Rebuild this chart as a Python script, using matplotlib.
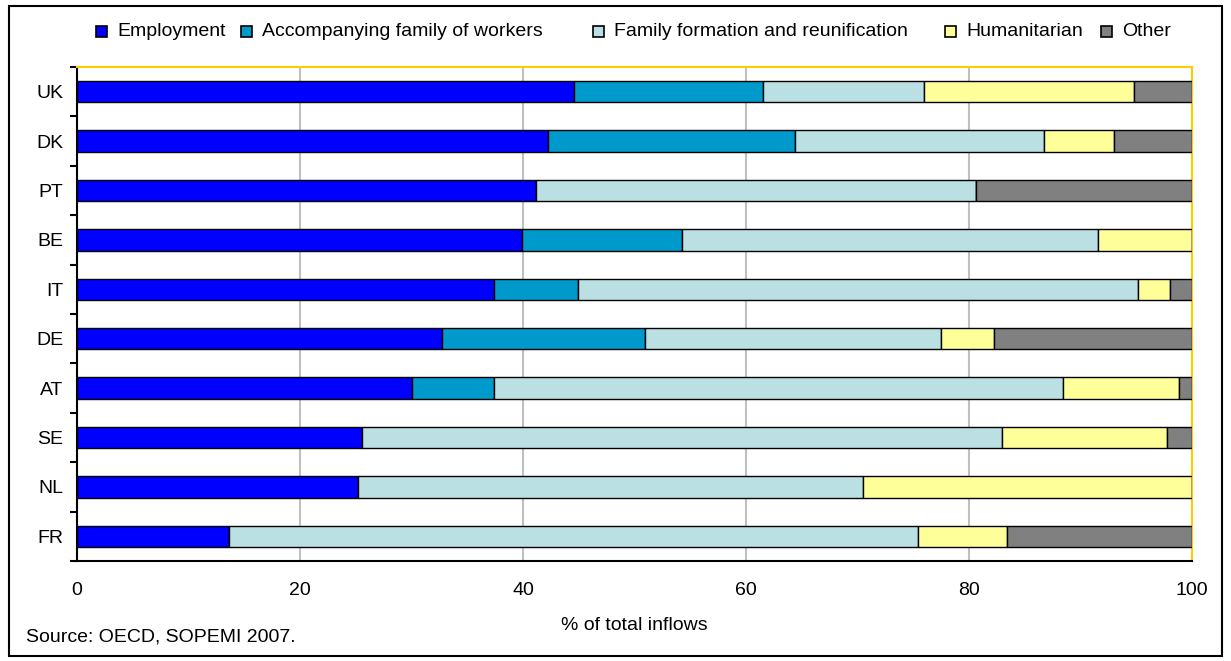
import matplotlib.pyplot as plt
from matplotlib.patches import Rectangle
import numpy as np

plt.rcParams['font.family'] = ['Liberation Sans', 'DejaVu Sans']
plt.rcParams['font.size'] = 14

# countries, top to bottom
countries = ['UK', 'DK', 'PT', 'BE', 'IT', 'DE', 'AT', 'SE', 'NL', 'FR']

# % of total inflows by category
employment = [44.6, 42.2, 41.2, 39.9, 37.4, 32.7, 30.0, 25.6, 25.2, 13.6]
accompanying = [16.9, 22.2, 0.0, 14.4, 7.5, 18.2, 7.4, 0.0, 0.0, 0.0]
family = [14.5, 22.3, 39.4, 37.3, 50.3, 26.6, 51.0, 57.4, 45.3, 61.8]
humanitarian = [18.8, 6.3, 0.0, 8.4, 2.8, 4.7, 10.4, 14.8, 29.5, 8.0]
other = [5.2, 7.0, 19.4, 0.0, 2.0, 17.8, 1.2, 2.2, 0.0, 16.6]

series = [employment, accompanying, family, humanitarian, other]
labels = ['Employment', 'Accompanying family of workers',
          'Family formation and reunification', 'Humanitarian', 'Other']
colors = ['#0000FF', '#0099CC', '#BBE0E3', '#FFFF99', '#808080']

W, H = 1231, 661
fig = plt.figure(figsize=(W / 100, H / 100), dpi=100)
ax = fig.add_axes([77/W, 1-561/H, (1192-77)/W, (561-67)/H])

y = np.arange(len(countries))[::-1]
left = np.zeros(len(countries))
for vals, c, lab in zip(series, colors, labels):
    vals = np.array(vals)
    ax.barh(y, vals, left=left, height=0.43, color=c, edgecolor='black',
            linewidth=1.0, label=lab, zorder=3)
    left += vals

ax.set_xlim(0, 100)
ax.set_ylim(-0.5, len(countries) - 0.5)
ax.set_xticks([0, 20, 40, 60, 80, 100])
ax.tick_params(axis='x', length=0, pad=15, labelsize=14)
ax.xaxis.grid(True, color='#C0C0C0', linewidth=1.5, zorder=0)

# category labels at centers, tick marks at boundaries
ax.set_yticks(np.arange(-0.5, len(countries), 1.0))
ax.set_yticklabels([])
ax.tick_params(axis='y', which='major', direction='out', length=5, width=1.5)
ax.set_yticks(y, minor=True)
ax.set_yticklabels(countries, minor=True)
ax.tick_params(axis='y', which='minor', length=0, pad=10, labelsize=14)

for s in ['top', 'right']:
    ax.spines[s].set_color('#FFCC00')
    ax.spines[s].set_linewidth(1.5)
for s in ['left', 'bottom']:
    ax.spines[s].set_color('black')
    ax.spines[s].set_linewidth(1.5)

fig.text((77+1192)/2/W, 1-625/H, '% of total inflows', ha='center', va='center', fontsize=14)

# legend drawn by hand to mimic spacing
leg_x = [96, 241, 593, 945, 1101]
for lx, c, lab in zip(leg_x, colors, labels):
    fig.add_artist(Rectangle((lx/W, 1-37/H), 11/W, 11/H, transform=fig.transFigure,
                             facecolor=c, edgecolor='black', linewidth=1.2))
    fig.text((lx+21)/W, 1-31/H, lab, ha='left', va='center', fontsize=14)

fig.text(26/W, 1-637/H, 'Source: OECD, SOPEMI 2007.', ha='left', va='center', fontsize=14)

# outer frame
fig.add_artist(Rectangle((9/W, 1-656/H), 1213/W, 650/H, transform=fig.transFigure,
                         fill=False, edgecolor='black', linewidth=1.5))

fig.savefig('out.png', dpi=100)
